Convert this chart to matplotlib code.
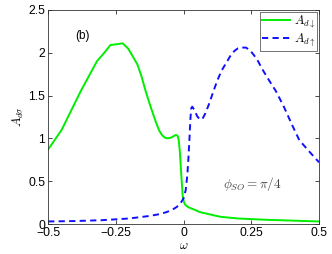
import numpy as np
import matplotlib
matplotlib.use("Agg")
import matplotlib.pyplot as plt

plt.rcParams['font.family'] = ['Liberation Sans', 'DejaVu Sans']
plt.rcParams['mathtext.fontset'] = 'cm'

# ------------------------------------------------------------
# dados
# ------------------------------------------------------------

w_down = [-0.5, -0.45, -0.38, -0.32, -0.29, -0.27, -0.245, -0.225, -0.205,
          -0.19, -0.17, -0.155, -0.14, -0.125, -0.11, -0.1, -0.09, -0.08,
          -0.07, -0.06, -0.045, -0.035, -0.028, -0.022, -0.018, -0.014,
          -0.01, -0.006, -0.003, 0.0, 0.005, 0.015, 0.03, 0.045, 0.06, 0.08,
          0.1, 0.135, 0.2, 0.3, 0.4, 0.5]
A_down = [0.87, 1.10, 1.55, 1.90, 2.01, 2.09, 2.10, 2.11, 2.05,
          1.97, 1.86, 1.72, 1.55, 1.40, 1.26, 1.17, 1.09, 1.04,
          1.01, 1.00, 1.01, 1.03, 1.04, 1.03, 0.98, 0.85,
          0.65, 0.45, 0.32, 0.27, 0.23, 0.20, 0.18, 0.16, 0.14, 0.125,
          0.11, 0.085, 0.065, 0.05, 0.04, 0.03]

w_up = [-0.5, -0.4, -0.3, -0.25, -0.2, -0.124, -0.09, -0.062, -0.04, -0.025,
        -0.012, 0.0, 0.008, 0.014, 0.018, 0.022, 0.025, 0.028, 0.032, 0.04,
        0.05, 0.06, 0.07, 0.08, 0.095, 0.11, 0.125, 0.14, 0.157, 0.172,
        0.187, 0.2, 0.215, 0.23, 0.245, 0.26, 0.275, 0.292, 0.315, 0.341,
        0.37, 0.403, 0.427, 0.46, 0.5]
A_up = [0.03, 0.035, 0.045, 0.055, 0.065, 0.095, 0.115, 0.14, 0.17, 0.20,
        0.24, 0.30, 0.40, 0.58, 0.78, 1.02, 1.22, 1.35, 1.37, 1.33,
        1.26, 1.22, 1.23, 1.29, 1.41, 1.55, 1.68, 1.79, 1.88, 1.96,
        2.02, 2.05, 2.06, 2.06, 2.03, 1.97, 1.90, 1.80, 1.68, 1.55,
        1.37, 1.14, 0.98, 0.86, 0.72]

xticks = [-0.5, -0.25, 0, 0.25, 0.5]
xticklabels = ['\u22120.5', '\u22120.25', '0', '0.25', '0.5']
yticks = [0, 0.5, 1, 1.5, 2, 2.5]
yticklabels = ['0', '0.5', '1', '1.5', '2', '2.5']

# ------------------------------------------------------------
# figura
# ------------------------------------------------------------

fig = plt.figure(figsize=(3.32, 2.54), dpi=100)
ax = fig.add_axes([0.145, 0.118, 0.816, 0.843])

ax.plot(w_down, A_down, '-', color='#00ee00', lw=1.4, label=r'$A_{d\downarrow}$')
ax.plot(w_up, A_up, '--', color='#1010ff', lw=1.4, dashes=(3.2, 2.2),
        label=r'$A_{d\uparrow}$')

ax.set_xlim(-0.5, 0.5)
ax.set_ylim(0, 2.5)
ax.set_xticks(xticks)
ax.set_xticklabels(xticklabels)
ax.set_yticks(yticks)
ax.set_yticklabels(yticklabels)
ax.tick_params(direction='in', top=True, right=True, labelsize=8.8,
               length=3, width=0.5, pad=2)
for s in ax.spines.values():
    s.set_linewidth(0.6)
    s.set_color('#333333')

ax.set_xlabel(r'$\omega$', fontsize=9, labelpad=1)
ax.set_ylabel(r'$A_{d\sigma}$', fontsize=9, labelpad=2)

ax.text(-0.375, 2.2, '(b)', fontsize=8.5, ha='center', va='center')
ax.text(0.255, 0.47, r'$\phi_{SO}=\pi/4$', fontsize=9.5, ha='center',
        va='center', color='#444444')

leg = ax.legend(loc='upper right', fontsize=9, frameon=True, fancybox=False,
                borderpad=0.15, handlelength=2.2, handletextpad=0.3,
                labelspacing=0.05, borderaxespad=0.15)
leg.get_frame().set_edgecolor('#333333')
leg.get_frame().set_linewidth(0.6)

fig.savefig('out.png', dpi=100)
